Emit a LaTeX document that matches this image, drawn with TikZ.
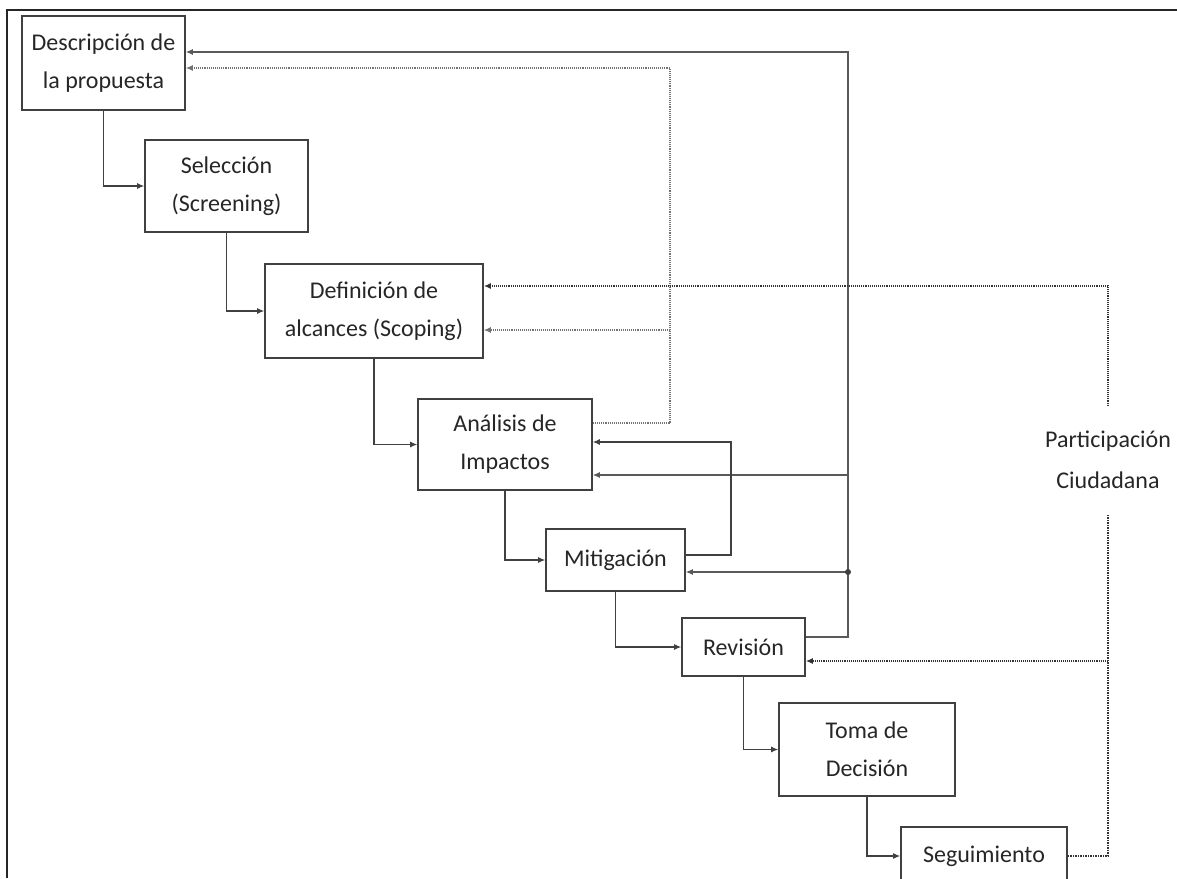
\documentclass[tikz,border=0pt]{standalone}
\usepackage{fontspec}
\setmainfont{Carlito}
\usetikzlibrary{arrows.meta}

\begin{document}
\begin{tikzpicture}[x=1pt, y=-1pt,
    caja/.style={draw=black!75, line width=1.6pt, align=center, inner sep=0pt,
                 text=black!85, font=\fontsize{24}{38}\selectfont},
    flecha/.style={-{Latex[length=7pt,width=6pt]}, draw=black!75, line width=1.1pt},
    retorno/.style={flecha, draw=black!55, densely dotted},
    ciudadana/.style={flecha, draw=black!80, densely dotted, line width=1.5pt}]

    % Marco
    \useasboundingbox (0,0) rectangle (1177,878);
    \draw[black!85, line width=1.2pt] (7,878) -- (7,10) -- (1177,10);

    % Etapas del proceso
    \node[caja, minimum width=163pt, minimum height=94pt] (desc) at (103.5,63)  {Descripción de\\la propuesta};
    \node[caja, minimum width=163pt, minimum height=92pt] (sel)  at (226.5,186) {Selección\\(Screening)};
    \node[caja, minimum width=218pt, minimum height=94pt] (def)  at (374,311)   {Definición de\\alcances (Scoping)};
    \node[caja, minimum width=174pt, minimum height=91pt] (anal) at (505,444.5) {Análisis de\\Impactos};
    \node[caja, minimum width=139pt, minimum height=62pt] (mit)  at (615.5,560) {Mitigación};
    \node[caja, minimum width=123pt, minimum height=58pt] (rev)  at (743.5,647) {Revisión};
    \node[caja, minimum width=176pt, minimum height=93pt] (toma) at (867,749.5) {Toma de\\Decisión};
    \node[caja, minimum width=166pt, minimum height=58pt] (seg)  at (984,856)   {Seguimiento};
    \node[caja, draw=none, minimum height=107pt, font=\fontsize{24}{41}\selectfont] (part) at (1108,460) {Participación\\Ciudadana};

    % Secuencia principal
    \draw[flecha] (desc.south) |- (sel.west);
    \draw[flecha] (sel.south)  |- (def.west);
    \draw[flecha] (def.south)  |- (anal.west);
    \draw[flecha] (anal.south) |- (mit.west);
    \draw[flecha] (mit.south)  |- (rev.west);
    \draw[flecha] (rev.south)  |- (toma.west);
    \draw[flecha] (toma.south) |- (seg.west);

    % Puntos de los retornos
    \coordinate (salA) at (0,423);
    \coordinate (topA) at (670,68);
    \coordinate (ramA) at (670,330);
    \coordinate (salB) at (0,637);
    \coordinate (topB) at (848,52);
    \coordinate (ramB) at (848,475);
    \coordinate (junB) at (848,572);
    \coordinate (salM) at (0,555);
    \coordinate (topM) at (731,442);
    \coordinate (entP) at (0,286);
    \coordinate (ramP) at (1108,661);

    % Retorno desde el análisis
    \draw[retorno] (anal.east |- salA) -| (topA) -- (desc.east |- topA);
    \draw[retorno] (ramA) -- (def.east |- ramA);

    % Retorno desde la revisión
    \draw[flecha, draw=black!65] (rev.east |- salB) -| (topB) -- (desc.east |- topB);
    \draw[flecha, draw=black!65] (ramB) -- (anal.east |- ramB);
    \draw[flecha, draw=black!65] (junB) -- (mit.east |- junB);
    \fill[black!75] (junB) circle (3pt);

    % Retorno desde la mitigación
    \draw[flecha] (mit.east |- salM) -| (topM) -- (anal.east |- topM);

    % Participación ciudadana
    \draw[black!80, densely dotted, line width=1.5pt] (seg.east) -| (part.south);
    \draw[ciudadana] (part.north) |- (def.east |- entP);
    \draw[ciudadana] (ramP) -- (rev.east |- ramP);

\end{tikzpicture}
\end{document}
